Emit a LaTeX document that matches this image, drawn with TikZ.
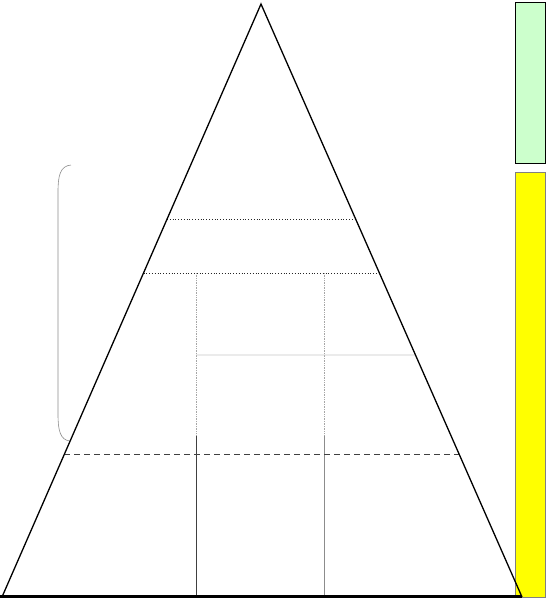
\documentclass[tikz,border=0pt]{standalone}
\usetikzlibrary{calc}
\definecolor{palegreen}{HTML}{CCFFCC}
\definecolor{brightyellow}{HTML}{FFFF00}
\begin{document}
\begin{tikzpicture}[x=1pt,y=-1pt,
  edge/.style={line width=1.3pt,black},
  baseline/.style={line width=2.6pt,black},
  levelline/.style={dotted,line width=0.8pt,black!85},
  gridv/.style={densely dotted,line width=0.7pt,black!35},
  gridh/.style={line width=0.7pt,black!22},
  postdark/.style={line width=0.8pt,black!75},
  postlight/.style={line width=0.8pt,black!45},
  cutline/.style={dashed,dash pattern=on 6pt off 4pt,line width=0.9pt,black!75},
  bracket/.style={line width=0.6pt,black!45},
  bar/.style={draw,line width=1pt,minimum width=30pt,inner sep=0pt,anchor=north west}]
\useasboundingbox (0,0) rectangle (546,598);
% bars
\node[bar,fill=palegreen,draw=black,minimum height=161pt] (green) at (514.5,1.5) {};
\node[bar,fill=brightyellow,draw=black!50,minimum height=425pt] (yellow) at (514.5,172) {};
% triangle corners
\coordinate (apex) at (261,4);
\coordinate (bl) at (2,597);
\coordinate (br) at (522,597);
\coordinate (b0) at (0,596.5);
\coordinate (b1) at (522,596.5);
% level points on edges
\coordinate (l1) at ($(apex)!0.3626!(bl)$);
\coordinate (r1) at ($(apex)!0.3626!(br)$);
\coordinate (l2) at ($(apex)!0.4536!(bl)$);
\coordinate (r2) at ($(apex)!0.4536!(br)$);
\coordinate (r3) at ($(apex)!0.5919!(br)$);
\coordinate (l4) at ($(apex)!0.7589!(bl)$);
\coordinate (r4) at ($(apex)!0.7589!(br)$);
% verticals
\coordinate (v1t) at (196,273);
\coordinate (v1m) at (196,436);
\coordinate (v1b) at (196,597);
\coordinate (v2t) at (324,273);
\coordinate (v2m) at (324,436);
\coordinate (v2b) at (324,597);
\coordinate (h3) at (196,355);
% bracket
\coordinate (bt) at (71,165);
\coordinate (bb) at (70,441);
% grid
\draw[gridv] (v1t) -- (v1m);
\draw[gridv] (v2t) -- (v2m);
\draw[gridh] (h3) -- (r3);
\draw[postdark] (v1m) -- (v1b);
\draw[postlight] (v2m) -- (v2b);
\draw[levelline] (l1) -- (r1);
\draw[levelline] (l2) -- (r2);
\draw[cutline] (l4) -- (r4);
\draw[bracket] (bt) .. controls (60,166) and (58,176) .. (58,192) -- (58,414) .. controls (58,430) and (60,440) .. (bb);
% triangle
\draw[edge,line join=miter] (bl) -- (apex) -- (br);
\draw[baseline] (b0) -- (b1);
\end{tikzpicture}
\end{document}
